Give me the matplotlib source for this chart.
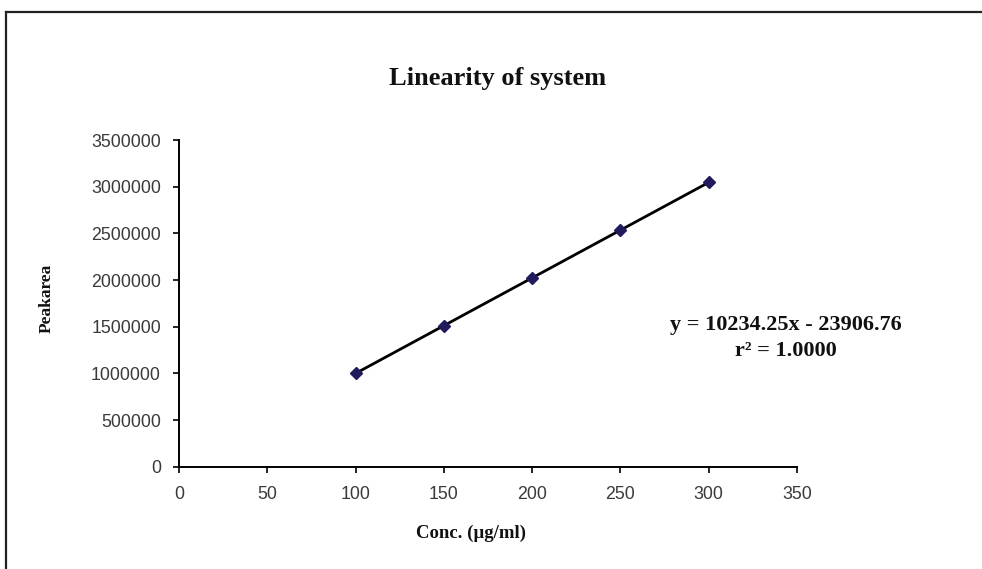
import numpy as np
import matplotlib
matplotlib.use("Agg")
import matplotlib.pyplot as plt
from matplotlib.lines import Line2D

# Calibration data
conc = [100, 150, 200, 250, 300]                      # µg/ml
peak_area = [1000500, 1510000, 2022000, 2535000, 3046000]
x_ticks = [0, 50, 100, 150, 200, 250, 300, 350]
y_ticks = [0, 500000, 1000000, 1500000, 2000000, 2500000, 3000000, 3500000]

title = "Linearity of system"
x_label = "Conc. (µg/ml)"
y_label = "Peakarea"
eq_text = "y = 10234.25x - 23906.76"
r2_text = "r² = 1.0000"

serif = ["Liberation Serif", "DejaVu Serif"]
sans = ["Liberation Sans", "DejaVu Sans"]

fig = plt.figure(figsize=(9.82, 5.69), dpi=100)
fig.patch.set_facecolor("white")

# outer frame (left and top edges visible)
fy = 1 - 12 / 569
fx = 5.5 / 982
fig.add_artist(Line2D([fx, 1.0], [fy, fy], color="#222222", lw=1.6))
fig.add_artist(Line2D([fx, fx], [0.0, fy], color="#222222", lw=1.6))

ax = fig.add_axes([179 / 982, 1 - 466.7 / 569, (797 - 179) / 982, (466.7 - 140) / 569])

# regression line from the data
slope, intercept = np.polyfit(conc, peak_area, 1)
xs = np.array([conc[0], conc[-1]])
ax.plot(xs, slope * xs + intercept, color="black", lw=2.0, zorder=2)
ax.plot(conc, peak_area, linestyle="none", marker="D", markersize=6.5,
        color="#1f1b5c", zorder=3)

ax.set_xlim(0, 350)
ax.set_ylim(0, 3500000)
ax.set_xticks(x_ticks)
ax.set_yticks(y_ticks)
ax.set_xticklabels([str(v) for v in x_ticks], fontfamily=sans, fontsize=12.8, color="#3a3a3a")
ax.set_yticklabels([str(v) for v in y_ticks], fontfamily=sans, fontsize=12.8, color="#3a3a3a")
ax.tick_params(axis="both", direction="out", length=4, width=1.2, color="black")
ax.tick_params(axis="x", pad=10)
ax.tick_params(axis="y", pad=9)

for s in ("top", "right"):
    ax.spines[s].set_visible(False)
for s in ("left", "bottom"):
    ax.spines[s].set_linewidth(1.4)
    ax.spines[s].set_color("black")

fig.text(498 / 982, 1 - 79 / 569, title, ha="center", va="center",
         fontfamily=serif, fontweight="bold", fontsize=19, color="#111111")
fig.text(471 / 982, 1 - 533 / 569, x_label, ha="center", va="center",
         fontfamily=serif, fontweight="bold", fontsize=13.5, color="#111111")
fig.text(47 / 982, 1 - 298 / 569, y_label, ha="center", va="center", rotation=90,
         fontfamily=serif, fontweight="bold", fontsize=12.5, color="#111111")

fig.text(786 / 982, 1 - 325 / 569, eq_text, ha="center", va="center",
         fontfamily=serif, fontweight="bold", fontsize=16, color="#111111")
fig.text(786 / 982, 1 - 351 / 569, r2_text, ha="center", va="center",
         fontfamily=serif, fontweight="bold", fontsize=16, color="#111111")

fig.savefig("out.png", dpi=100, facecolor="white")
